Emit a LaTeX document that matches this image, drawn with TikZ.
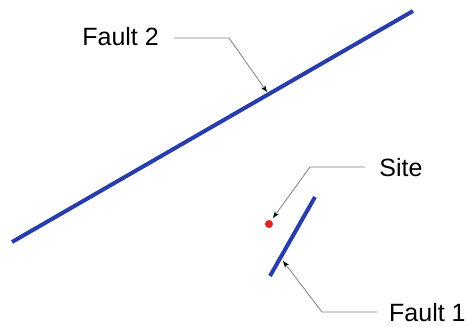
\documentclass[tikz,border=0pt]{standalone}
\usepackage{fontspec}
\setmainfont{Liberation Sans}
\usetikzlibrary{arrows.meta}
\definecolor{faultblue}{RGB}{40,60,170}
\definecolor{sitered}{RGB}{230,35,35}

\begin{document}
\begin{tikzpicture}[x=1pt,y=-1pt,
    fault/.style={faultblue,line width=4pt},
    leader/.style={gray,line width=0.8pt,-{Stealth[length=7pt,width=5pt,black]}},
    lbl/.style={font=\fontsize{25}{30}\selectfont,inner sep=0pt}]
  \useasboundingbox (0,0) rectangle (467,327);
  % faults and site
  \coordinate (f2a) at (12,242);
  \coordinate (f2b) at (413,11);
  \draw[fault] (f2a) -- (f2b);
  \coordinate (f1a) at (315,197);
  \coordinate (f1b) at (270,276);
  \draw[fault] (f1a) -- (f1b);
  \node[circle,fill=sitered,inner sep=0pt,minimum size=8pt] (site) at (269,224) {};
  % labels
  \node[lbl,anchor=east] (lf2) at (159,37) {Fault 2};
  \node[lbl] (lsite) at (401,168) {Site};
  \node[lbl,anchor=west] (lf1) at (389,313) {Fault 1};
  % leaders
  \coordinate (f2s) at (174,38);
  \coordinate (f2k) at (229,38);
  \coordinate (f2t) at (267,92);
  \draw[leader] (f2s) -- (f2k) -- (f2t);
  \coordinate (ss) at (365,167);
  \coordinate (sk) at (310,167);
  \coordinate (st) at (273,218);
  \draw[leader] (ss) -- (sk) -- (st);
  \coordinate (f1s) at (377,312);
  \coordinate (f1k) at (322,312);
  \coordinate (f1t) at (283,261);
  \draw[leader] (f1s) -- (f1k) -- (f1t);
\end{tikzpicture}
\end{document}
